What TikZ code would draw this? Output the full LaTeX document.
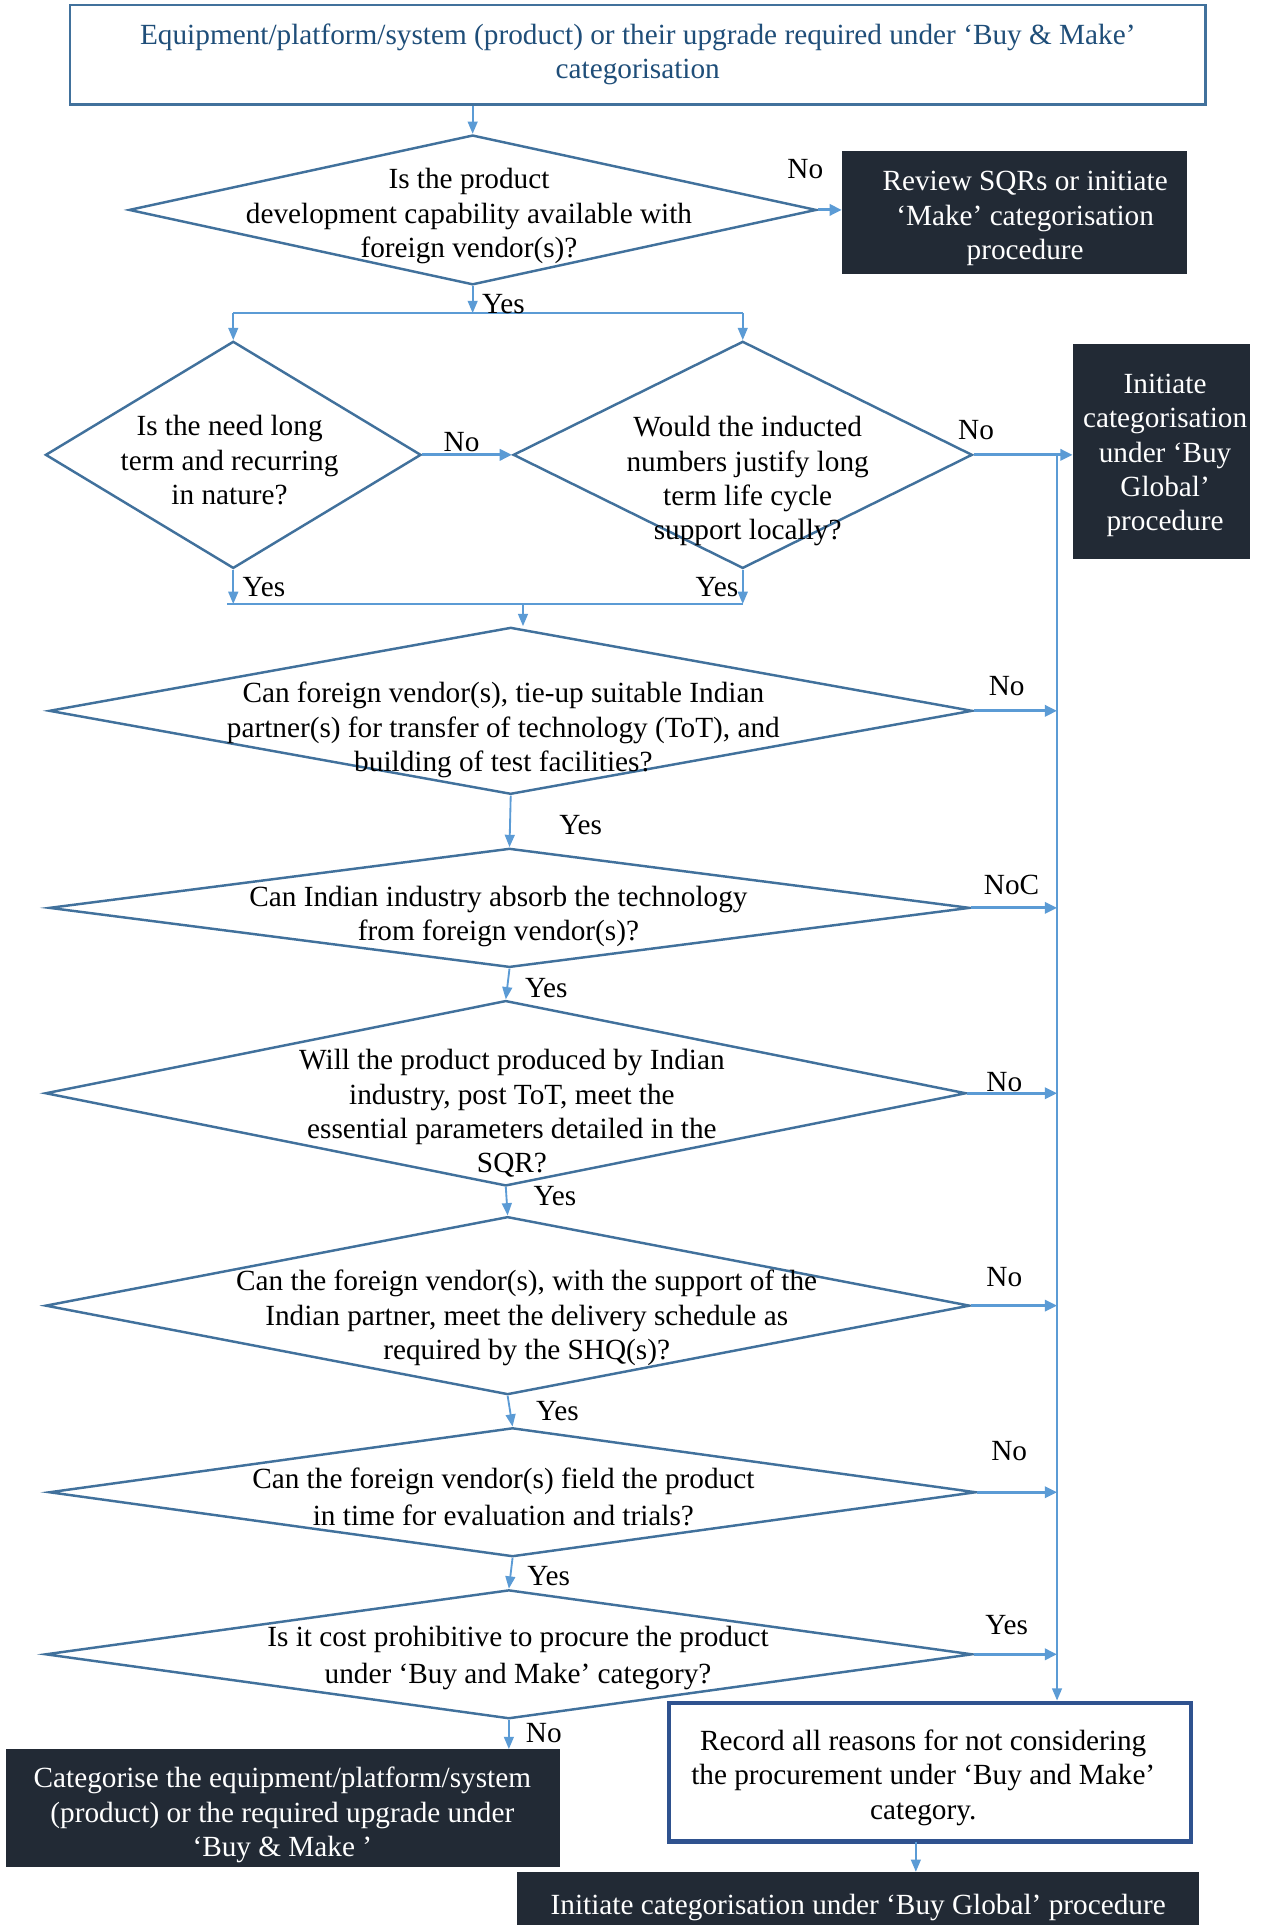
\documentclass[tikz,border=0pt]{standalone}
\usepackage{fontspec}
\setmainfont{Liberation Serif}
\usetikzlibrary{shapes.geometric,arrows.meta}
\definecolor{dstroke}{HTML}{41719C}
\definecolor{arrcol}{HTML}{5B9BD5}
\definecolor{darkfill}{HTML}{222A35}
\definecolor{toptext}{HTML}{1F4E79}
\definecolor{recline}{HTML}{2F528F}
\tikzset{
  txt/.style={font=\fontsize{14.3}{16.8}\selectfont, align=center, inner sep=0pt},
  dia/.style={shape=diamond, draw=dstroke, line width=1.2pt, inner sep=0pt},
  darkbox/.style={rectangle, fill=darkfill, inner sep=0pt},
  whitetxt/.style={txt, text=white},
  varr/.style={draw=arrcol, line width=0.9pt, -{Triangle[length=6pt,width=4.8pt]}},
  harr/.style={draw=arrcol, line width=1.4pt, -{Triangle[length=6pt,width=5.5pt]}},
  plainline/.style={draw=arrcol, line width=0.9pt},
  lbl/.style={txt, text=black}
}
\begin{document}
\begin{tikzpicture}[x=0.6pt,y=-0.6pt]
\useasboundingbox (0,0) rectangle (1030,1568);
\fill[white] (0,0) rectangle (1030,1568);

% boxes
\node[rectangle, draw=dstroke, line width=1.2pt, minimum width=555pt, minimum height=48.6pt, inner sep=0pt] (top) at (519.5,44.5) {};
\node[txt, text=toptext] (topT) at (519.5,44.5) {Equipment/platform/system (product) or their upgrade required under ‘Buy \& Make’\\categorisation};
\node[darkbox, minimum width=168.6pt, minimum height=60pt] (review) at (826.5,173) {};
\node[whitetxt] (reviewT) at (835,178) {Review SQRs or initiate\\‘Make’ categorisation\\procedure};
\node[darkbox, minimum width=86.4pt, minimum height=105pt] (init1) at (946,367.5) {};
\node[whitetxt] (init1T) at (949,371) {Initiate\\categorisation\\under ‘Buy\\Global’\\procedure};
\node[darkbox, minimum width=270.6pt, minimum height=57.6pt] (catbox) at (230.5,1473) {};
\node[whitetxt] (catboxT) at (230,1478.5) {Categorise the equipment/platform/system\\(product) or the required upgrade under\\‘Buy \& Make ’};
\node[rectangle, draw=recline, line width=2.2pt, fill=white, minimum width=255pt, minimum height=67.8pt, inner sep=0pt] (record) at (757.5,1443.5) {};
\node[txt] (recordT) at (752,1448) {Record all reasons for not considering\\the procurement under ‘Buy and Make’\\category.};
\node[darkbox, minimum width=333.6pt, minimum height=30pt] (final) at (699,1550) {};
\node[whitetxt] (finalT) at (699,1553.5) {Initiate categorisation under ‘Buy Global’ procedure};

% diamonds
\node[dia, minimum width=336pt, minimum height=73.2pt] (D1) at (385,171) {};
\node[dia, minimum width=183.6pt, minimum height=111pt] (D2) at (190,370.5) {};
\node[dia, minimum width=224.4pt, minimum height=111pt] (D3) at (605,370.5) {};
\node[dia, minimum width=451.2pt, minimum height=81.6pt] (D4) at (416,579) {};
\node[dia, minimum width=450pt, minimum height=58.2pt] (D5) at (415,739.5) {};
\node[dia, minimum width=450pt, minimum height=90.6pt] (D6) at (412,890.5) {};
\node[dia, minimum width=451.8pt, minimum height=87pt] (D7) at (413.5,1063.5) {};
\node[dia, minimum width=453pt, minimum height=63pt] (D8) at (417.5,1215.5) {};
\node[dia, minimum width=453pt, minimum height=63pt] (D9) at (414.5,1347.5) {};

% diamond texts
\node[txt] (T1) at (382,176) {Is the product\\development capability available with\\foreign vendor(s)?};
\node[txt] (T2) at (187,375) {Is the need long\\term and recurring\\in nature?};
\node[txt] (T3) at (609,392) {Would the inducted\\numbers justify long\\term life cycle\\support locally?};
\node[txt] (T4) at (410,594.5) {Can foreign vendor(s), tie-up suitable Indian\\partner(s) for transfer of technology (ToT), and\\building of test facilities?};
\node[txt] (T5) at (406,746.5) {Can Indian industry absorb the technology\\from foreign vendor(s)?};
\node[txt] (T6) at (417,907) {Will the product produced by Indian\\industry, post ToT, meet the\\essential parameters detailed in the\\SQR?};
\node[txt] (T7) at (429,1073.5) {Can the foreign vendor(s), with the support of the\\Indian partner, meet the delivery schedule as\\required by the SHQ(s)?};
\node[txt, font=\fontsize{14.3}{18}\selectfont] (T8) at (410,1219.5) {Can the foreign vendor(s) field the product\\in time for evaluation and trials?};
\node[txt, font=\fontsize{14.3}{18}\selectfont] (T9) at (422,1350.5) {Is it cost prohibitive to procure the product\\under ‘Buy and Make’ category?};

% junction coordinates
\coordinate (j1) at (385,255);
\coordinate (j2) at (426,492);
\coordinate (v1) at (861,371);
\coordinate (r1) at (746,1500);

% connectors
\draw[varr] (top.south -| D1.north) -- (D1.north);
\draw[harr] (D1.east) -- (D1.east -| review.west);
\draw[varr] (D1.south) -- (D1.south |- j1);
\draw[plainline] (D2.north |- j1) -- (D3.north |- j1);
\draw[varr] (D2.north |- j1) -- (D2.north);
\draw[varr] (D3.north |- j1) -- (D3.north);
\draw[harr] (D2.east) -- (D3.west);
\draw[harr] (D3.east) -- (D3.east -| init1.west);
\draw[varr] (v1) -- (v1 |- record.north);
\draw[varr] (D2.south) -- (D2.south |- j2);
\draw[varr] (D3.south) -- (D3.south |- j2);
\draw[plainline] ([xshift=-3pt]D2.south |- j2) -- (D3.south |- j2);
\draw[varr] (j2) -- (j2 |- D4.north);
\draw[varr] (D4.south) -- (D5.north);
\draw[varr] (D5.south) -- (D6.north);
\draw[varr] (D6.south) -- (D7.north);
\draw[varr] (D7.south) -- (D8.north);
\draw[varr] (D8.south) -- (D9.north);
\draw[varr] (D9.south) -- (D9.south |- catbox.north);
\draw[varr] (r1) -- (r1 |- final.north);
\draw[harr] (D4.east) -- (D4.east -| v1);
\draw[harr] (D5.east) -- (D5.east -| v1);
\draw[harr] (D6.east) -- (D6.east -| v1);
\draw[harr] (D7.east) -- (D7.east -| v1);
\draw[harr] (D8.east) -- (D8.east -| v1);
\draw[harr] (D9.east) -- (D9.east -| v1);

% labels
\node[lbl] (L1) at (656,138) {No};
\node[lbl] (L2) at (410,248) {Yes};
\node[lbl] (L3) at (376,360) {No};
\node[lbl] (L4) at (795,350) {No};
\node[lbl] (L5) at (215,478) {Yes};
\node[lbl] (L6) at (584,478) {Yes};
\node[lbl] (L7) at (820,559) {No};
\node[lbl] (L8) at (473,672) {Yes};
\node[lbl] (L9) at (824,721) {NoC};
\node[lbl] (L10) at (445,805) {Yes};
\node[lbl] (L11) at (818,881) {No};
\node[lbl] (L12) at (452,974) {Yes};
\node[lbl] (L13) at (818,1040) {No};
\node[lbl] (L14) at (454,1149) {Yes};
\node[lbl] (L15) at (822,1182) {No};
\node[lbl] (L16) at (447,1284) {Yes};
\node[lbl] (L17) at (820,1324) {Yes};
\node[lbl] (L18) at (443,1412) {No};
\end{tikzpicture}
\end{document}
